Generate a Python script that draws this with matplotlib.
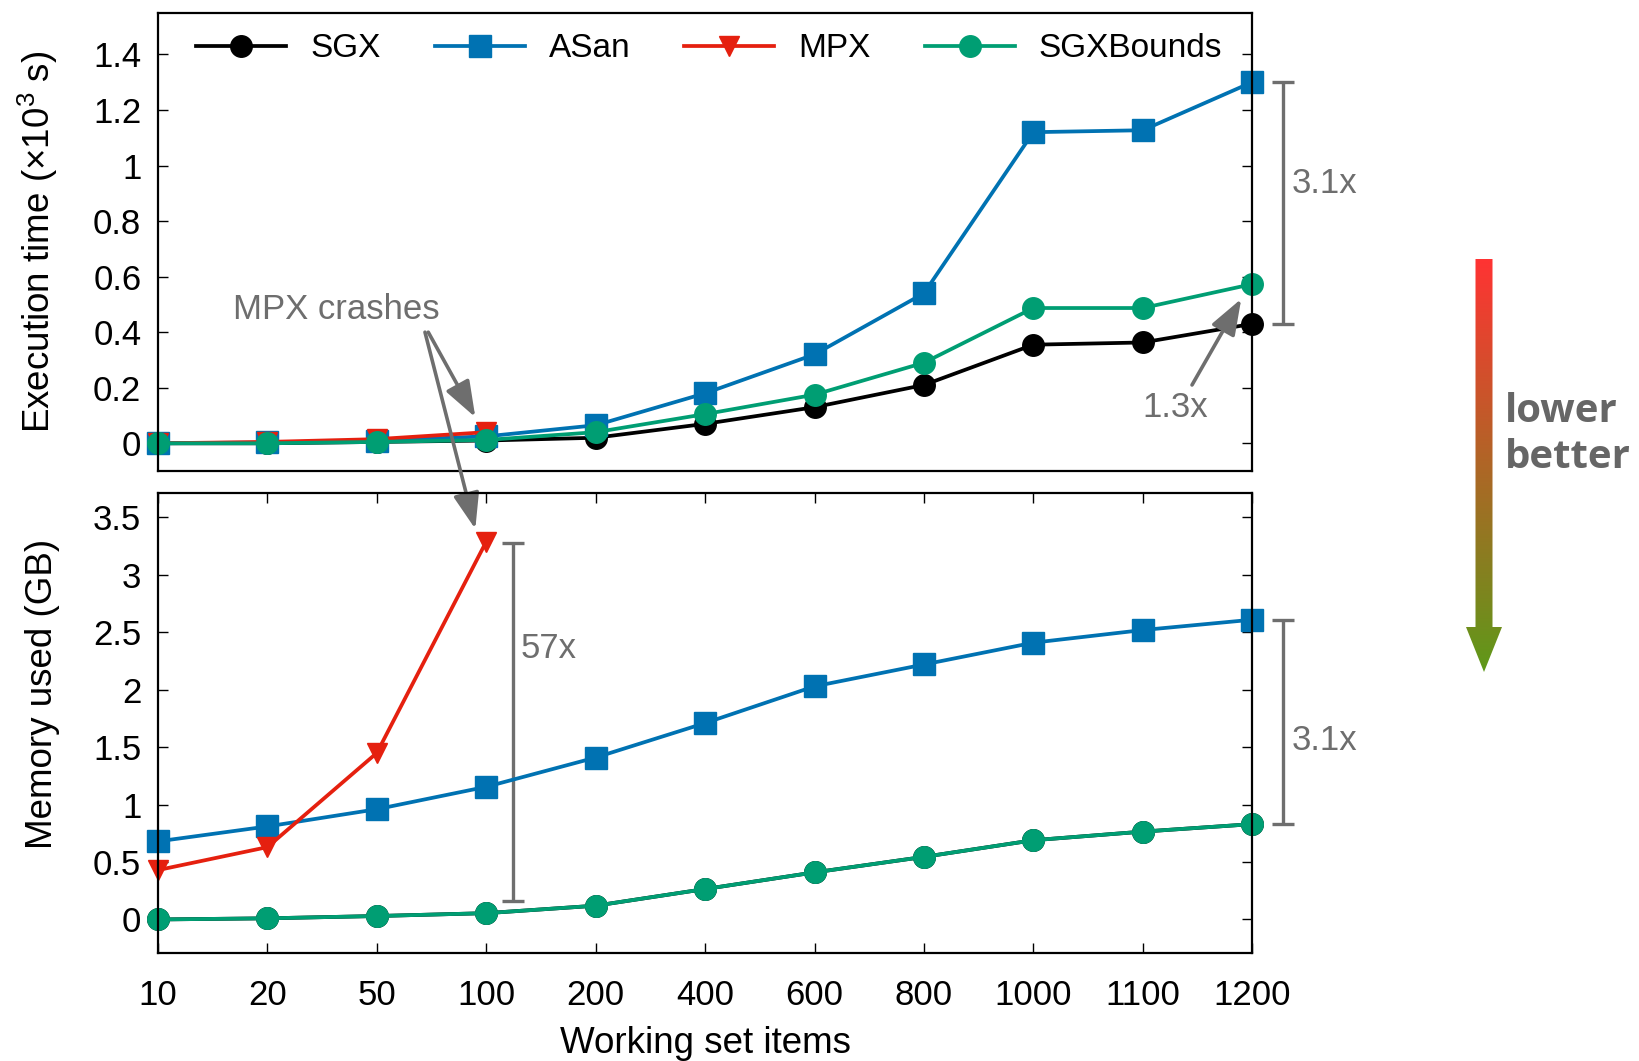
import matplotlib
matplotlib.use("Agg")
import matplotlib.pyplot as plt
import numpy as np
from matplotlib.patches import Polygon

plt.rcParams['font.family'] = ['Liberation Sans', 'DejaVu Sans']
plt.rcParams['mathtext.fontset'] = 'custom'
plt.rcParams['mathtext.rm'] = 'Liberation Sans'

# ---- data ----
items = ["10", "20", "50", "100", "200", "400", "600", "800", "1000", "1100", "1200"]
time_sgx = [0.0, 0.0, 0.005, 0.01, 0.02, 0.07, 0.13, 0.21, 0.355, 0.363, 0.43]
time_asan = [0.0, 0.003, 0.01, 0.025, 0.065, 0.18, 0.32, 0.54, 1.12, 1.127, 1.30]
time_mpx = [0.0, 0.005, 0.015, 0.04]
time_sgxb = [0.0, 0.0, 0.005, 0.012, 0.04, 0.105, 0.175, 0.29, 0.487, 0.487, 0.573]

mem_sgx = [0.0, 0.01, 0.03, 0.055, 0.12, 0.265, 0.41, 0.545, 0.69, 0.765, 0.83]
mem_asan = [0.68, 0.81, 0.96, 1.155, 1.41, 1.71, 2.03, 2.22, 2.41, 2.52, 2.61]
mem_mpx = [0.43, 0.63, 1.45, 3.29]
mem_sgxb = [0.0, 0.01, 0.03, 0.055, 0.12, 0.265, 0.41, 0.545, 0.69, 0.765, 0.83]

c_sgx, c_asan, c_mpx, c_sgxb = "black", "#0072b2", "#e5200f", "#009e73"
gray = "#6e6e6e"
FS_TICK = 25
FS_LAB = 26.5
FS_LEG = 24
FS_ANN = 25

fig = plt.figure(figsize=(16.39, 10.61), dpi=100)
ax1 = fig.add_axes([0.0964, 0.556, 0.6676, 0.432])
ax2 = fig.add_axes([0.0964, 0.102, 0.6676, 0.433])

x = np.arange(len(items))
lw = 2.7
ms_sq, ms_ci, ms_tr = 16, 15.5, 15

def draw(ax, sgx, asan, mpx, sgxb):
    ax.plot(x, sgx, color=c_sgx, lw=lw, marker='o', ms=ms_ci, label="SGX", zorder=3, clip_on=False)
    ax.plot(x, asan, color=c_asan, lw=lw, marker='s', ms=ms_sq, label="ASan", zorder=3, clip_on=False)
    ax.plot(x[:len(mpx)], mpx, color=c_mpx, lw=lw, marker='v', ms=ms_tr, label="MPX", zorder=3, clip_on=False)
    ax.plot(x, sgxb, color=c_sgxb, lw=lw, marker='o', ms=ms_ci, label="SGXBounds", zorder=3, clip_on=False)

draw(ax1, time_sgx, time_asan, time_mpx, time_sgxb)
draw(ax2, mem_sgx, mem_asan, mem_mpx, mem_sgxb)

for ax in (ax1, ax2):
    ax.set_xlim(0, 10)
    for s in ax.spines.values():
        s.set_linewidth(1.6)
        s.set_zorder(4)
    ax.tick_params(direction='in', length=7, width=1.0, labelsize=FS_TICK, right=True, pad=12)

ax1.set_ylim(-0.1, 1.55)
ax1.set_yticks([0, 0.2, 0.4, 0.6, 0.8, 1.0, 1.2, 1.4])
ax1.set_yticklabels(["0", "0.2", "0.4", "0.6", "0.8", "1", "1.2", "1.4"])
ax1.set_xticks([])
ax1.set_ylabel("Execution time (×10$^3$ s)", fontsize=FS_LAB)

ax2.set_ylim(-0.29, 3.71)
ax2.set_yticks([0, 0.5, 1, 1.5, 2, 2.5, 3, 3.5])
ax2.set_yticklabels(["0", "0.5", "1", "1.5", "2", "2.5", "3", "3.5"])
ax2.set_xticks(x)
ax2.set_xticklabels(items)
ax2.tick_params(axis='x', top=True, pad=19)
ax2.set_ylabel("Memory used (GB)", fontsize=FS_LAB)
ax2.set_xlabel("Working set items", fontsize=FS_LAB)

ax1.yaxis.set_label_coords(-0.09, 0.5)
ax2.yaxis.set_label_coords(-0.09, 0.563)
ax2.xaxis.set_label_coords(0.5, -0.159)

leg = ax1.legend(loc='upper left', ncol=4, frameon=False, fontsize=FS_LEG,
                 handlelength=2.7, columnspacing=1.62, handletextpad=0.72,
                 borderpad=0, borderaxespad=0,
                 bbox_to_anchor=(0.035, 0.955))

# ---- annotations ----
def bracket(ax, xp, y0, y1):
    ax.plot([xp, xp], [y0, y1], color=gray, lw=2.4, clip_on=False, solid_capstyle='butt')
    ax.plot([xp], [y0], marker='_', ms=16, mew=2.4, color=gray, clip_on=False)
    ax.plot([xp], [y1], marker='_', ms=16, mew=2.4, color=gray, clip_on=False)

bracket(ax1, 10.28, time_sgx[-1], time_asan[-1])
ax1.text(10.36, 0.935, "3.1x", fontsize=FS_ANN, color=gray, va='center', ha='left')
bracket(ax2, 10.28, mem_sgxb[-1], mem_asan[-1])
ax2.text(10.36, 1.56, "3.1x", fontsize=FS_ANN, color=gray, va='center', ha='left')
bracket(ax2, 3.24, 0.16, 3.28)
ax2.text(3.31, 2.36, "57x", fontsize=FS_ANN, color=gray, va='center', ha='left')

arrow_kw = dict(arrowstyle="-|>,head_length=1.1,head_width=0.4",
                color=gray, lw=2.6, shrinkA=0, shrinkB=0, mutation_scale=20)

ax1.text(9.3, 0.13, "1.3x", fontsize=FS_ANN, color=gray, va='center', ha='center')
ax1.annotate("", xy=(9.9, 0.52), xytext=(9.45, 0.21), arrowprops=arrow_kw)

ax1.text(1.63, 0.48, "MPX crashes", fontsize=FS_ANN, color=gray, va='center', ha='center')
ax1.annotate("", xy=(2.9, 0.094), xytext=(2.47, 0.40), arrowprops=arrow_kw)
ax2.annotate("", xy=(2.9, 3.40), xycoords=ax2.transData,
             xytext=(2.44, 0.40), textcoords=ax1.transData,
             arrowprops=arrow_kw, annotation_clip=False)

# ---- gradient arrow "lower better" ----
ov = fig.add_axes([0, 0, 1, 1], facecolor='none')
ov.set_xlim(0, 1639)
ov.set_ylim(1061, 0)
ov.axis('off')
cx, top, hs, tip = 1484, 259, 627, 672
hw, sw = 18, 8.5
poly = Polygon([(cx - sw, top), (cx + sw, top), (cx + sw, hs), (cx + hw, hs),
                (cx, tip), (cx - hw, hs), (cx - sw, hs)], closed=True,
               facecolor='none', edgecolor='none')
ov.add_patch(poly)
c_top = np.array([1.0, 0.2, 0.2])
c_bot = np.array([0.37, 0.6, 0.1])
t = np.linspace(0, 1, 256)[:, None]
grad = (c_top[None, :] * (1 - t) + c_bot[None, :] * t)[:, None, :]
im = ov.imshow(grad, extent=[cx - hw, cx + hw, tip, top], aspect='auto', origin='upper')
im.set_clip_path(poly)
ov.set_xlim(0, 1639)
ov.set_ylim(1061, 0)
ov.text(1505, 411, "lower", fontsize=29, fontweight='bold', color='#666666',
        family=['Open Sans', 'DejaVu Sans'], va='center', ha='left')
ov.text(1505, 457, "better", fontsize=29, fontweight='bold', color='#666666',
        family=['Open Sans', 'DejaVu Sans'], va='center', ha='left')

fig.savefig("out.png", dpi=100)
